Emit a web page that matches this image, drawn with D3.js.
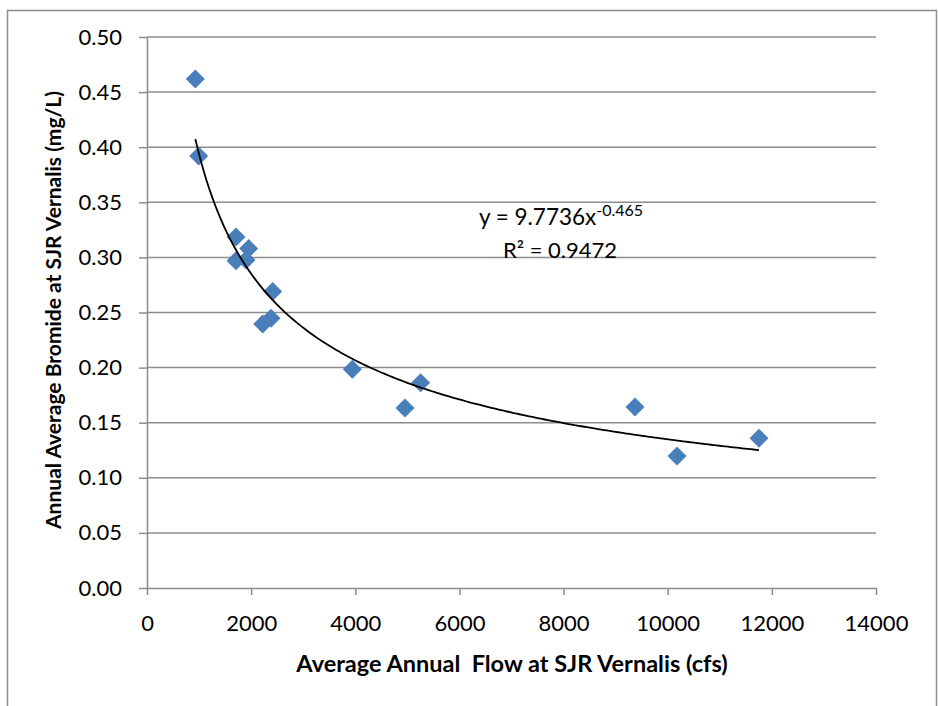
<!DOCTYPE html>
<html>
<head>
<meta charset="utf-8">
<script src="https://cdn.jsdelivr.net/npm/d3@7"></script>
<style>
  body { margin: 0; background: #fff; }
  svg text { font-family: Lato, "Open Sans", sans-serif; fill: #000; }
</style>
</head>
<body>
<div id="chart"></div>
<script>
// data
var flow = [928, 993, 1709, 1953, 1709, 1901, 2414, 2222, 2381, 3943, 5255, 4955, 9372, 10179, 11753]
var bromide = [0.462, 0.392, 0.3185, 0.308, 0.297, 0.2976, 0.269, 0.2396, 0.2447, 0.1985, 0.1863, 0.1633, 0.1643, 0.1198, 0.136]
var xTicks = [0, 2000, 4000, 6000, 8000, 10000, 12000, 14000]
var yTicks = [0, 0.05, 0.10, 0.15, 0.20, 0.25, 0.30, 0.35, 0.40, 0.45, 0.50]

// power trendline shown on the chart
var fitA = 9.7736, fitB = -0.465, fitR2 = 0.9472

var width = 938, height = 706
var margin = {top: 37, right: 62, bottom: 118, left: 147}

var svg = d3.select("#chart").append("svg")
    .attr("width", width)
    .attr("height", height)

// outer chart border
svg.append("rect")
  .attr("x", 7.5).attr("y", 10.5)
  .attr("width", 929).attr("height", 700)
  .attr("fill", "none")
  .attr("stroke", "#8c8c8c")
  .attr("stroke-width", 1.5)

var x = d3.scaleLinear().domain([0, 14000]).range([margin.left, width - margin.right])
var y = d3.scaleLinear().domain([0, 0.5]).range([height - margin.bottom, margin.top])

// horizontal gridlines
svg.append("g")
  .selectAll("line")
  .data(yTicks.slice(1))
  .enter().append("line")
    .attr("x1", x(0)).attr("x2", x(14000))
    .attr("y1", d => y(d)).attr("y2", d => y(d))
    .attr("stroke", "#8c8c8c")
    .attr("stroke-width", 1.5)

// x axis
var xAxis = svg.append("g")
  .attr("transform", "translate(0," + y(0) + ")")
  .call(d3.axisBottom(x).tickValues(xTicks).tickSize(7).tickSizeOuter(0).tickPadding(20).tickFormat(d3.format("d")))
xAxis.select(".domain").attr("stroke", "#8c8c8c").attr("stroke-width", 1.5)
xAxis.selectAll(".tick line").attr("stroke", "#8c8c8c").attr("stroke-width", 1.5)
xAxis.selectAll(".tick text").attr("font-size", "22px").attr("font-family", "Lato")

// y axis
var yAxis = svg.append("g")
  .attr("transform", "translate(" + x(0) + ",0)")
  .call(d3.axisLeft(y).tickValues(yTicks).tickSize(8).tickSizeOuter(0).tickPadding(17).tickFormat(d3.format(".2f")))
yAxis.select(".domain").attr("stroke", "#8c8c8c").attr("stroke-width", 1.5)
yAxis.selectAll(".tick line").attr("stroke", "#8c8c8c").attr("stroke-width", 1.5)
yAxis.selectAll(".tick text").attr("font-size", "22px").attr("font-family", "Lato")

// markers (diamonds)
var dsize = 9.5
svg.append("g")
  .selectAll("path")
  .data(flow)
  .enter().append("path")
    .attr("transform", (d, i) => "translate(" + x(d) + "," + y(bromide[i]) + ")")
    .attr("d", "M0," + (-dsize) + "L" + dsize + ",0L0," + dsize + "L" + (-dsize) + ",0Z")
    .attr("fill", "#4a7ebb")

// trendline from min to max flow
var xmin = d3.min(flow), xmax = d3.max(flow)
var trend = d3.range(0, 201).map(i => {
  var xv = xmin + (xmax - xmin) * i / 200
  return [xv, fitA * Math.pow(xv, fitB)]
})
svg.append("path")
  .datum(trend)
  .attr("fill", "none")
  .attr("stroke", "#000")
  .attr("stroke-width", 1.8)
  .attr("d", d3.line().x(d => x(d[0])).y(d => y(d[1])))

// equation label
var eq = svg.append("text")
  .attr("x", 561).attr("y", 225)
  .attr("text-anchor", "middle")
  .attr("font-size", "22.5px")
eq.append("tspan").text("y = " + fitA + "x")
eq.append("tspan").attr("dy", -9).attr("font-size", "16px").text(fitB)

svg.append("text")
  .attr("x", 560).attr("y", 258)
  .attr("text-anchor", "middle")
  .attr("font-size", "22px")
  .text("R² = " + fitR2)

// axis titles
svg.append("text")
  .attr("x", 512).attr("y", 672)
  .attr("text-anchor", "middle")
  .attr("font-size", "23.5px")
  .attr("font-weight", "bold")
  .style("white-space", "pre")
  .text("Average Annual  Flow at SJR Vernalis (cfs)")

svg.append("text")
  .attr("transform", "translate(61," + 310 + ") rotate(-90)")
  .attr("text-anchor", "middle")
  .attr("font-size", "21px")
  .attr("font-weight", "bold")
  .text("Annual Average Bromide at SJR Vernalis (mg/L)")
</script>
</body>
</html>
